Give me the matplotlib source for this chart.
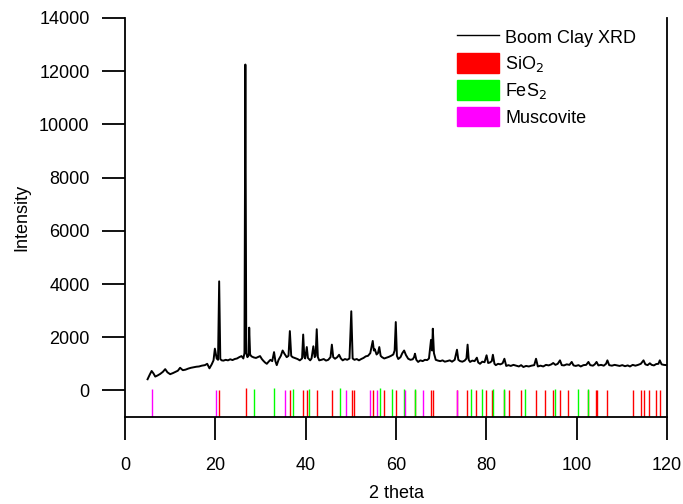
import numpy as np
import matplotlib
matplotlib.use("Agg")
import matplotlib.pyplot as plt
from matplotlib.patches import Patch
from matplotlib.lines import Line2D

plt.rcParams['font.family'] = ['Liberation Sans', 'DejaVu Sans']

# -----------------------------
# Data
# -----------------------------

two_theta = [5.0, 5.5, 5.9, 6.3, 6.7, 7.2, 7.8, 8.4, 8.9, 9.4, 10.0, 10.6, 11.2, 11.7, 12.2,
             12.8, 13.4, 14.0, 14.6, 15.2, 15.8, 16.4, 17.0, 17.7, 18.2, 18.7, 19.2, 19.6,
             19.9, 20.3, 20.6, 20.85, 21.1, 21.4, 21.8, 22.3, 22.8, 23.3, 23.8, 24.3, 24.8,
             25.3, 25.8, 26.2, 26.45, 26.65, 26.85, 27.1, 27.35, 27.5, 27.7, 28.0, 28.5,
             29.0, 29.5, 29.9, 30.3, 30.6, 31.0, 31.4, 31.8, 32.2, 32.6, 33.0, 33.3, 33.6,
             34.0, 34.5, 34.9, 35.3, 35.8, 36.2, 36.5, 36.8, 37.1, 37.6, 38.2, 38.7, 39.2,
             39.45, 39.7, 39.9, 40.25, 40.5, 41.0, 41.3, 41.7, 42.0, 42.2, 42.45, 42.7, 43.0,
             43.5, 44.0, 44.5, 45.0, 45.5, 45.8, 46.1, 46.5, 47.0, 47.4, 47.8, 48.2, 48.7,
             49.2, 49.7, 50.1, 50.4, 50.8, 51.3, 51.8, 52.3, 52.8, 53.3, 53.8, 54.3, 54.85,
             55.1, 55.3, 55.7, 56.0, 56.3, 56.6, 56.9, 57.4, 57.9, 58.4, 58.9, 59.4, 59.7,
             59.95, 60.2, 60.5, 61.0, 61.4, 61.8, 62.2, 62.7, 63.2, 63.7, 64.0, 64.2, 64.5,
             64.9, 65.4, 65.9, 66.4, 66.9, 67.3, 67.75, 68.0, 68.15, 68.4, 68.8, 69.3, 69.8,
             70.3, 70.8, 71.3, 71.9, 72.4, 73.0, 73.5, 73.8, 74.2, 74.7, 75.2, 75.6, 75.85,
             76.1, 76.4, 76.9, 77.4, 77.9, 78.2, 78.6, 79.1, 79.6, 80.05, 80.4, 80.8, 81.2,
             81.45, 81.8, 82.1, 82.6, 83.1, 83.6, 84.0, 84.4, 84.9, 85.4, 86.0, 86.6, 87.2,
             87.7, 88.2, 88.8, 89.4, 90.0, 90.6, 91.0, 91.4, 92.0, 92.6, 93.2, 93.8, 94.4,
             94.8, 95.3, 95.8, 96.3, 96.7, 97.2, 97.8, 98.4, 98.9, 99.3, 99.8, 100.4, 100.9,
             101.5, 102.1, 102.6, 103.0, 103.6, 104.0, 104.4, 104.8, 105.4, 106.0, 106.5,
             106.8, 107.2, 107.8, 108.4, 108.9, 109.5, 110.1, 110.7, 111.3, 111.8, 112.4,
             113.0, 113.6, 114.2, 114.8, 115.2, 115.7, 116.2, 116.6, 117.1, 117.6, 118.1,
             118.4, 118.8, 119.3, 119.9]

intensity = [420, 600, 730, 640, 520, 560, 620, 700, 800, 680, 610, 650, 700, 740, 850,
             760, 780, 820, 850, 870, 890, 900, 930, 950, 1000, 830, 980, 1130,
             1570, 1200, 1150, 4100, 1180, 1130, 1120, 1150, 1130, 1170, 1140, 1180, 1200,
             1250, 1290, 1200, 1400, 12250, 1400, 1250, 1300, 2360, 1350, 1280, 1240,
             1220, 1260, 1290, 1180, 1120, 1050, 1000, 1080, 1150, 1100, 1440, 1100, 950,
             1150, 1300, 1500, 1380, 1250, 1300, 2230, 1300, 1250, 1220, 1180, 1130, 1200,
             2100, 1250, 1200, 1630, 1220, 1130, 1200, 1660, 1250, 1300, 2300, 1250, 1130,
             1150, 1180, 1120, 1150, 1250, 1720, 1250, 1190, 1250, 1340, 1200, 1130, 1180,
             1150, 1200, 2975, 1200, 1150, 1180, 1130, 1180, 1220, 1280, 1300, 1400, 1860,
             1500, 1550, 1350, 1400, 1630, 1300, 1250, 1200, 1230, 1260, 1300, 1350, 1500,
             2570, 1300, 1180, 1250, 1400, 1500, 1330, 1190, 1150, 1170, 1250, 1380, 1150,
             1070, 1130, 1100, 1150, 1140, 1200, 1900, 1500, 2320, 1400, 1150, 1120, 1100,
             1130, 1080, 1100, 1130, 1080, 1150, 1530, 1150, 1100, 1080, 1120, 1200, 1720,
             1150, 1070, 1120, 1100, 1230, 1050, 1000, 1080, 1060, 1320, 1030, 1050, 1100,
             1340, 1000, 950, 1000, 980, 1020, 1190, 920, 950, 920, 960, 930, 900,
             950, 880, 920, 900, 930, 950, 1190, 900, 930, 900, 960, 940, 980,
             1030, 960, 1000, 1130, 950, 940, 980, 960, 1070, 940, 920, 950, 900,
             950, 960, 1070, 950, 930, 980, 1070, 940, 960, 930, 1000,
             1130, 950, 930, 960, 940, 920, 950, 910, 940, 900, 960,
             930, 960, 1000, 1130, 980, 950, 1020, 960, 940, 990, 1000,
             1130, 980, 960, 950]

# reference stick patterns (2 theta positions, top of stick)
sio2_pos = [20.9, 26.7, 36.6, 39.5, 40.3, 42.5, 45.8, 50.2, 50.7, 55.0, 57.4, 60.0, 64.1,
            67.8, 68.2, 73.5, 75.7, 77.7, 80.0, 81.3, 83.9, 85.1, 87.6, 90.9, 93.0, 94.8,
            96.4, 98.0, 102.5, 104.2, 104.5, 106.7, 112.4, 114.3, 114.8, 116.1, 117.6, 118.4]
sio2_top = [0, 100, 0, 0, 0, 0, 0, 0, 0, 0, 0, 0, 0,
            0, 0, 0, 0, 0, 0, 0, 0, 0, 0, 0, 0, 0,
            0, 0, 0, 0, 0, 0, 0, 0, 0, 0, 0, 0]

fes2_pos = [28.5, 33.1, 37.1, 40.8, 47.5, 56.4, 59.2, 61.8, 64.3, 76.7, 79.1, 81.5, 83.8,
            88.5, 95.3, 100.2, 102.4]
fes2_top = [40, 100, 40, 60, 80, 100, 40, 40, 40, 40, 40, 40, 40,
            40, 40, 40, 60]

musc_pos = [6.0, 20.1, 35.4, 49.0, 54.3, 55.9, 61.9, 65.9, 73.6]
musc_top = [60, 0, 0, 0, 0, 0, 0, 0, 0]

# -----------------------------
# Plot
# -----------------------------

fig = plt.figure(figsize=(6.83, 5.04), dpi=100)
ax = fig.add_axes([0.183, 0.1726, 0.7936, 0.7917])

ax.vlines(sio2_pos, -1000, sio2_top, color='#ff0000', lw=1.0)
ax.vlines(fes2_pos, -1000, fes2_top, color='#00ff00', lw=1.0)
ax.vlines(musc_pos, -1000, musc_top, color='#ff00ff', lw=1.0)

ax.plot(two_theta, intensity, color='black', lw=1.4)

ax.set_xlim(0, 120)
ax.set_ylim(-1000, 14000)
ax.set_xticks([0, 20, 40, 60, 80, 100, 120])
ax.set_yticks(np.arange(0, 14001, 2000))

ax.spines['top'].set_visible(False)
for s in ['left', 'bottom', 'right']:
    ax.spines[s].set_linewidth(1.3)

ax.tick_params(axis='both', direction='out', length=16.5, width=1.3, labelsize=13)
ax.tick_params(axis='y', right=False, pad=9)
ax.tick_params(axis='x', pad=12)

ax.set_xlabel("2 theta", fontsize=13, labelpad=8)
ax.set_ylabel("Intensity", fontsize=13, labelpad=6)

handles = [Line2D([0], [0], color='black', lw=1),
           Patch(color='#ff0000'),
           Patch(color='#00ff00'),
           Patch(color='#ff00ff')]
labels = ["Boom Clay XRD", "SiO$_2$", "FeS$_2$", "Muscovite"]
ax.legend(handles, labels, loc='upper left', bbox_to_anchor=(0.6, 0.995), frameon=False,
          fontsize=13, handlelength=2.3, handleheight=1.3, handletextpad=0.35,
          labelspacing=0.33, borderaxespad=0)

fig.savefig("out.png", dpi=100)
